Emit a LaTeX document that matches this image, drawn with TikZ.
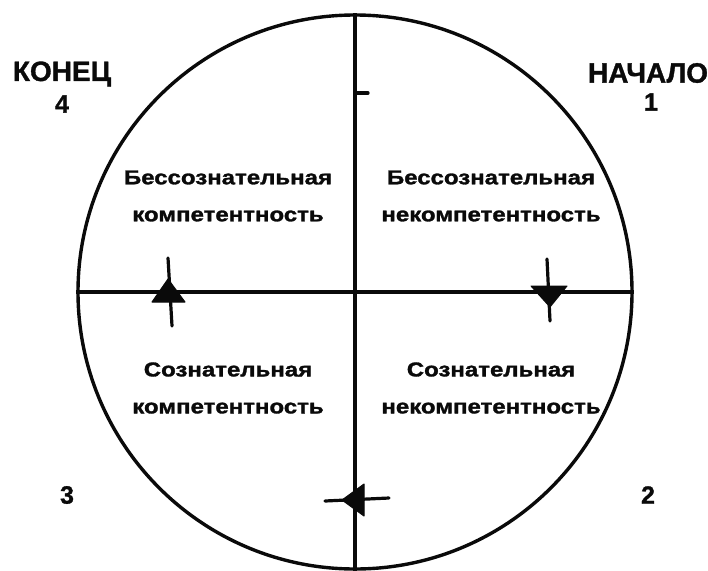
\documentclass[tikz,border=0pt]{standalone}
\usepackage{fontspec}
\setmainfont{Liberation Sans}[BoldFeatures={FakeBold=1.2}]
\newfontfamily\widefont{Liberation Sans}[FakeStretch=1.2, BoldFeatures={FakeBold=1.5}]
\usetikzlibrary{positioning}
\definecolor{ink}{HTML}{0A0A0A}
\tikzset{
  axis/.style={draw=ink, line width=3.4pt},
  quad/.style={font=\widefont\bfseries\fontsize{20}{37}\selectfont, align=center, text=ink, inner sep=0pt},
  corner/.style={font=\bfseries\fontsize{28}{32}\selectfont, text=ink, align=center, inner sep=0pt},
  num/.style={font=\bfseries\fontsize{25}{30}\selectfont, text=ink, inner sep=0pt},
  marker/.style={fill=ink, draw=ink, line width=1pt, line join=round},
  tickline/.style={draw=ink, line width=3.2pt, line cap=round},
}

\begin{document}
\begin{tikzpicture}[x=1pt, y=-1pt]
\useasboundingbox (0,0) rectangle (708,570);
% circle and axes
\node[draw=ink, line width=3.4pt, circle, minimum size=554pt, inner sep=0pt] (circ) at (355,292) {};
\draw[axis] (circ.north) -- (circ.south);
\draw[axis] (circ.west) -- (circ.east);

% quadrant texts
\node[quad] (q4) at (228,196) {Бессознательная\\компетентность};
\node[quad] (q1) at (491,196) {Бессознательная\\некомпетентность};
\node[quad] (q3) at (228,388) {Сознательная\\компетентность};
\node[quad] (q2) at (491,388) {Сознательная\\некомпетентность};

% corner labels
\node[corner] (kon) at (62,74) {КОНЕЦ};
\node[num] (n4) at (62,104) {4};
\node[corner] (nach) at (648,73) {НАЧАЛО};
\node[num] (n1) at (651,102) {1};
\node[num] (n3) at (67,495) {3};
\node[num] (n2) at (648,495) {2};

% markers
\coordinate (m1) at (548,292);
\coordinate (m2) at (356,500);
\coordinate (m3) at (168,292);
\coordinate (m4) at (356,93);
\fill[marker] (m1) ++(-17,-6) -- ++(36,0) -- ++(-17,21) -- cycle;
\draw[tickline] (m1) ++(-1,-33) -- ++(3,62);
\fill[marker] (m2) ++(-14,0) -- ++(22,-16) -- ++(0,32) -- cycle;
\draw[tickline] (m2) ++(-31,1) -- ++(64,-3);
\fill[marker] (m3) ++(-16,10) -- ++(16,-23) -- ++(17,23) -- cycle;
\draw[tickline] (m3) ++(0,-34) -- ++(4,68);
\draw[tickline] (m4) -- ++(12,0);
\end{tikzpicture}
\end{document}
